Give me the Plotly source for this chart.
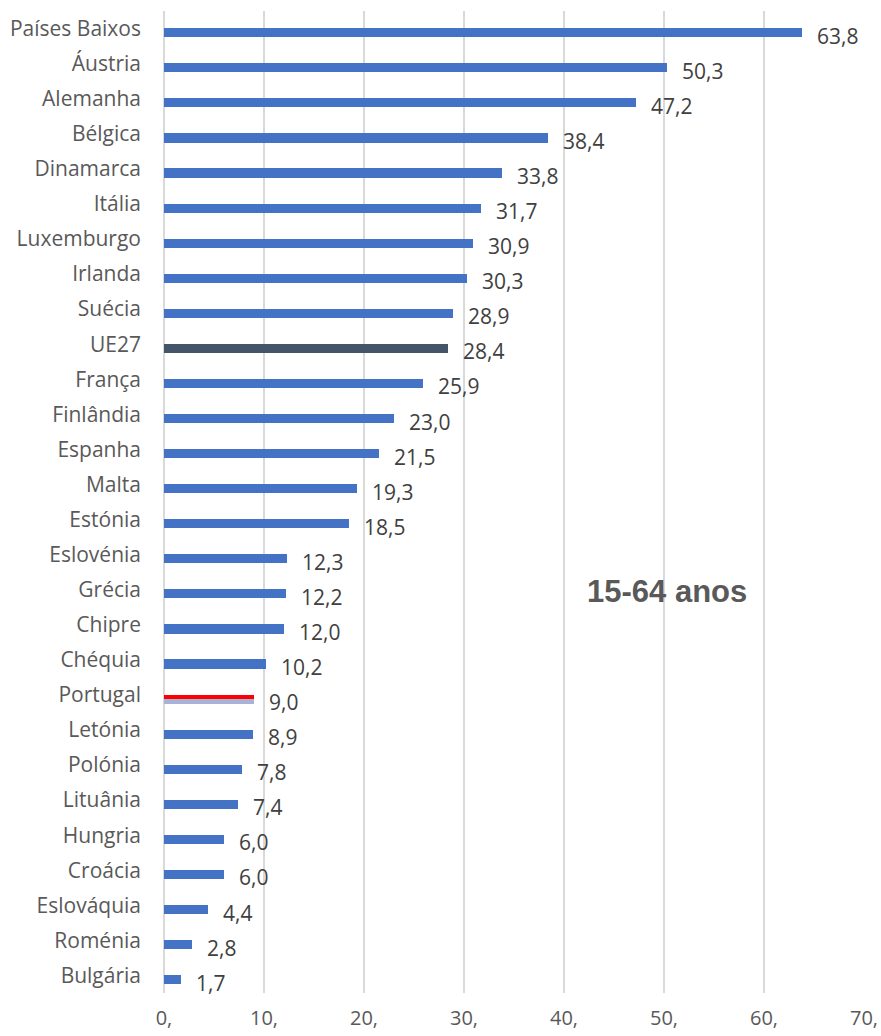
import plotly.graph_objects as go

# Percentagem por país, ordenada de forma decrescente
paises = [
    "Países Baixos", "Áustria", "Alemanha", "Bélgica", "Dinamarca", "Itália",
    "Luxemburgo", "Irlanda", "Suécia", "UE27", "França", "Finlândia", "Espanha",
    "Malta", "Estónia", "Eslovénia", "Grécia", "Chipre", "Chéquia", "Portugal",
    "Letónia", "Polónia", "Lituânia", "Hungria", "Croácia", "Eslováquia",
    "Roménia", "Bulgária",
]
valores = [
    63.8, 50.3, 47.2, 38.4, 33.8, 31.7, 30.9, 30.3, 28.9, 28.4, 25.9, 23.0, 21.5,
    19.3, 18.5, 12.3, 12.2, 12.0, 10.2, 9.0, 8.9, 7.8, 7.4, 6.0, 6.0, 4.4, 2.8, 1.7,
]
eixo_x_vals = [0, 10, 20, 30, 40, 50, 60, 70]
eixo_x_txt = ["0,", "10,", "20,", "30,", "40,", "50,", "60,", "70,"]

AZUL = "#4472C4"
ESCURO = "#44546A"
VERMELHO = "#FF0000"
LILAS = "#A9B3D8"
CINZA_TXT = "#595959"
FONTE = "Open Sans, Noto Sans, sans-serif"

pos = list(range(len(paises)))
desvio = 0.12          # barras ligeiramente abaixo do centro da categoria
espessura = 0.26

cores = []
for p in paises:
    if p == "UE27":
        cores.append(ESCURO)
    elif p == "Portugal":
        cores.append(LILAS)
    else:
        cores.append(AZUL)

fig = go.Figure()
fig.add_trace(go.Bar(
    x=valores,
    y=[i + desvio for i in pos],
    orientation="h",
    width=espessura,
    marker=dict(color=cores, line=dict(width=0)),
    hoverinfo="skip",
))

# Metade superior vermelha da barra de Portugal
ip = paises.index("Portugal")
fig.add_trace(go.Bar(
    x=[valores[ip]],
    y=[ip + desvio - espessura / 4],
    orientation="h",
    width=espessura / 2,
    marker=dict(color=VERMELHO, line=dict(width=0)),
    hoverinfo="skip",
))

# Rótulos de valor à direita de cada barra
for i, v in zip(pos, valores):
    fig.add_annotation(
        x=v, y=i + desvio, xref="x", yref="y",
        text=f"{v:.1f}".replace(".", ","),
        showarrow=False, xanchor="left", yanchor="middle",
        xshift=13, yshift=-3,
        font=dict(family=FONTE, size=21, color="#404040"),
    )

fig.add_annotation(
    x=0.719, y=0.409, xref="paper", yref="paper",
    text="<b>15-64 anos</b>", showarrow=False,
    xanchor="center", yanchor="middle",
    font=dict(family="Liberation Sans, Arial, sans-serif", size=31, color=CINZA_TXT),
)

fig.update_layout(
    width=881, height=1036,
    margin=dict(l=164, r=17, t=11, b=43, autoexpand=False),
    paper_bgcolor="white", plot_bgcolor="white",
    barmode="overlay", bargap=0,
    showlegend=False,
    xaxis=dict(
        range=[0, 70], tickvals=eixo_x_vals, ticktext=eixo_x_txt,
        showgrid=True, gridcolor="#D9D9D9", gridwidth=2,
        zeroline=True, zerolinecolor="#D9D9D9", zerolinewidth=2,
        showline=False, ticks="", ticklabelstandoff=11,
        automargin=False,
        tickfont=dict(family=FONTE, size=20, color=CINZA_TXT),
    ),
    yaxis=dict(
        range=[len(paises) - 0.5, -0.5],
        tickvals=pos, ticktext=paises,
        showgrid=False, zeroline=False, showline=False,
        ticks="", ticklabelstandoff=22, automargin=False,
        tickfont=dict(family=FONTE, size=21, color=CINZA_TXT),
    ),
)

fig.write_html("out.html")
